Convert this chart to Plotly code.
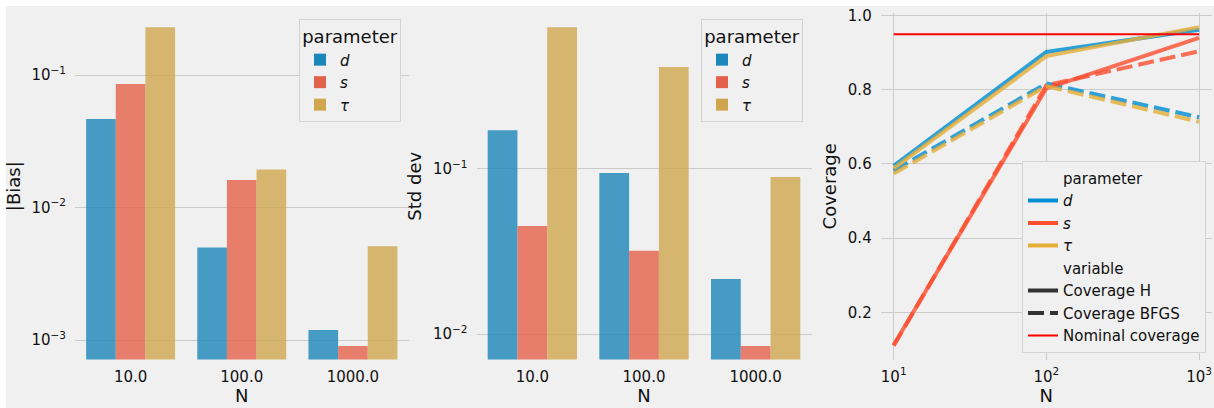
import plotly.graph_objects as go

# ---------------- data ----------------
N_labels = ["10.0", "100.0", "1000.0"]
N_values = [10, 100, 1000]
N_ticktext = ["10<sup>1</sup>", "10<sup>2</sup>", "10<sup>3</sup>"]
param_names = ["<i>d</i>", "<i>s</i>", "<i>τ</i>"]

bias_ticks = [0.001, 0.01, 0.1]
bias_ticktext = ["10<sup>−3</sup>", "10<sup>−2</sup>", "10<sup>−1</sup>"]
std_ticks = [0.01, 0.1]
std_ticktext = ["10<sup>−2</sup>", "10<sup>−1</sup>"]
cov_ticks = [0.2, 0.4, 0.6, 0.8, 1.0]
cov_ticktext = ["0.2", "0.4", "0.6", "0.8", "1.0"]

bias_d = [0.0466, 0.0050, 0.00119]
bias_s = [0.0855, 0.0161, 0.000901]
bias_tau = [0.229, 0.0194, 0.0051]

std_d = [0.171, 0.0942, 0.0215]
std_s = [0.045, 0.0319, 0.00846]
std_tau = [0.717, 0.412, 0.0891]

covH_d = [0.595, 0.902, 0.962]
covH_s = [0.112, 0.804, 0.940]
covH_tau = [0.588, 0.891, 0.969]
covB_d = [0.582, 0.817, 0.726]
covB_s = [0.110, 0.812, 0.904]
covB_tau = [0.574, 0.810, 0.714]
nominal_x = [10, 1000]
nominal_y = [0.95, 0.95]

# ---------------- style ----------------
W, H = 1214, 408
BG = "#f0f0f0"
GRID = "#cbcbcb"
bar_colors = ["rgb(27,134,186)", "rgb(227,97,74)", "rgb(207,166,78)"]
line_colors = ["#008fd5", "#fc4f30", "#e5ae38"]
FONT = "DejaVu Sans"


def fx(px):
    return px / W


def fy(py):
    return 1 - py / H


YTOP, YBOT = 13, 359.5
ydom = [fy(YBOT), fy(YTOP)]

fig = go.Figure()

bias_series = [bias_d, bias_s, bias_tau]
std_series = [std_d, std_s, std_tau]
for i in range(3):
    fig.add_trace(go.Bar(x=N_labels, y=bias_series[i], name=param_names[i],
                         marker=dict(color=bar_colors[i], opacity=0.8, line=dict(width=0)),
                         xaxis="x", yaxis="y", legend="legend"))
for i in range(3):
    fig.add_trace(go.Bar(x=N_labels, y=std_series[i], name=param_names[i],
                         marker=dict(color=bar_colors[i], opacity=0.8, line=dict(width=0)),
                         xaxis="x2", yaxis="y2", legend="legend2"))

covH = [covH_d, covH_s, covH_tau]
covB = [covB_d, covB_s, covB_tau]
for i in range(3):
    fig.add_trace(go.Scatter(x=N_values, y=covH[i], mode="lines", showlegend=False,
                             line=dict(color=line_colors[i], width=4), opacity=0.8,
                             xaxis="x3", yaxis="y3"))
    fig.add_trace(go.Scatter(x=N_values, y=covB[i], mode="lines", showlegend=False,
                             line=dict(color=line_colors[i], width=4, dash="16px,6px"), opacity=0.8,
                             xaxis="x3", yaxis="y3"))
fig.add_trace(go.Scatter(x=nominal_x, y=nominal_y, mode="lines", name="Nominal coverage",
                         showlegend=False, line=dict(color="#ff0000", width=2),
                         xaxis="x3", yaxis="y3"))


# legend entries for panel 3 (seaborn-style)
def leg(name, color, dash="solid", width=4):
    fig.add_trace(go.Scatter(x=[None], y=[None], mode="lines", name=name,
                             line=dict(color=color, width=width, dash=dash),
                             xaxis="x3", yaxis="y3", legend="legend3"))


leg("parameter", "rgba(0,0,0,0)")
for i in range(3):
    leg(param_names[i], line_colors[i])
leg("variable", "rgba(0,0,0,0)")
leg("Coverage H", "#333333")
leg("Coverage BFGS", "#333333", dash="16px,6px")
leg("Nominal coverage", "#ff0000", width=2)

tickfont = dict(family=FONT, size=15, color="#111111")
titlefont = dict(family=FONT, size=18, color="#111111")

common_x = dict(showgrid=False, zeroline=False, showline=False, ticks="outside",
                ticklen=3, tickcolor=BG, tickfont=tickfont, ticklabeloverflow="allow",
                automargin=False)
common_y = dict(showgrid=True, gridcolor=GRID, gridwidth=1, zeroline=False, showline=False,
                ticks="outside", ticklen=5, tickcolor=BG, tickfont=tickfont,
                ticklabeloverflow="allow", tickmode="array", automargin=False)

legend_common = dict(bgcolor=BG, bordercolor="#d4d4d4", borderwidth=1,
                     font=dict(family=FONT, size=15, color="#111111"),
                     traceorder="normal", itemwidth=30, tracegroupgap=0)

fig.update_layout(
    width=W, height=H,
    margin=dict(l=0, r=0, t=0, b=0, autoexpand=False),
    paper_bgcolor=BG, plot_bgcolor=BG,
    font=dict(family=FONT, color="#111111"),
    barmode="group", bargap=0.2, bargroupgap=0,
    xaxis=dict(domain=[fx(75), fx(408.5)], anchor="y", type="category", range=[-0.5, 2.5],
               title=dict(text="N", font=titlefont, standoff=2), **common_x),
    yaxis=dict(domain=ydom, anchor="x", type="log", range=[-3.147, -0.532],
               tickvals=bias_ticks, ticktext=bias_ticktext,
               title=dict(text="|Bias|", font=titlefont, standoff=6), **common_y),
    xaxis2=dict(domain=[fx(476.5), fx(811.5)], anchor="y2", type="category", range=[-0.5, 2.5],
                title=dict(text="N", font=titlefont, standoff=2), **common_x),
    yaxis2=dict(domain=ydom, anchor="x2", type="log", range=[-2.154, -0.058],
                tickvals=std_ticks, ticktext=std_ticktext,
                title=dict(text="Std dev", font=titlefont, standoff=6), **common_y),
    xaxis3=dict(domain=[fx(880.7), fx(1211.7)], anchor="y3", type="log", range=[0.915, 3.083],
                tickmode="array", tickvals=N_values, ticktext=N_ticktext,
                showgrid=True, gridcolor=GRID, gridwidth=1,
                zeroline=False, showline=False, ticks="outside", ticklen=3, tickcolor=BG,
                tickfont=tickfont, ticklabeloverflow="allow", automargin=False,
                title=dict(text="N", font=titlefont, standoff=2)),
    yaxis3=dict(domain=ydom, anchor="x3", range=[0.073, 1.007],
                tickvals=cov_ticks, ticktext=cov_ticktext,
                title=dict(text="Coverage", font=titlefont, standoff=6), **common_y),
    legend=dict(x=fx(401), y=fy(19), xanchor="right", yanchor="top",
                title=dict(text="parameter", side="top center"), **legend_common),
    legend2=dict(x=fx(803), y=fy(19), xanchor="right", yanchor="top",
                 title=dict(text="parameter", side="top center"), **legend_common),
    legend3=dict(x=fx(1206), y=fy(352.7), xanchor="right", yanchor="bottom", **legend_common),
    shapes=[
        dict(type="rect", xref="paper", yref="paper", x0=0, x1=fx(6), y0=0, y1=1,
             fillcolor="white", line=dict(width=0), layer="below"),
        dict(type="rect", xref="paper", yref="paper", x0=0, x1=1, y0=fy(6), y1=1,
             fillcolor="white", line=dict(width=0), layer="below"),
    ],
)

fig.write_html("out.html", config={"displayModeBar": False},
               post_script="document.body.style.margin='0';document.body.style.overflow='hidden';")
